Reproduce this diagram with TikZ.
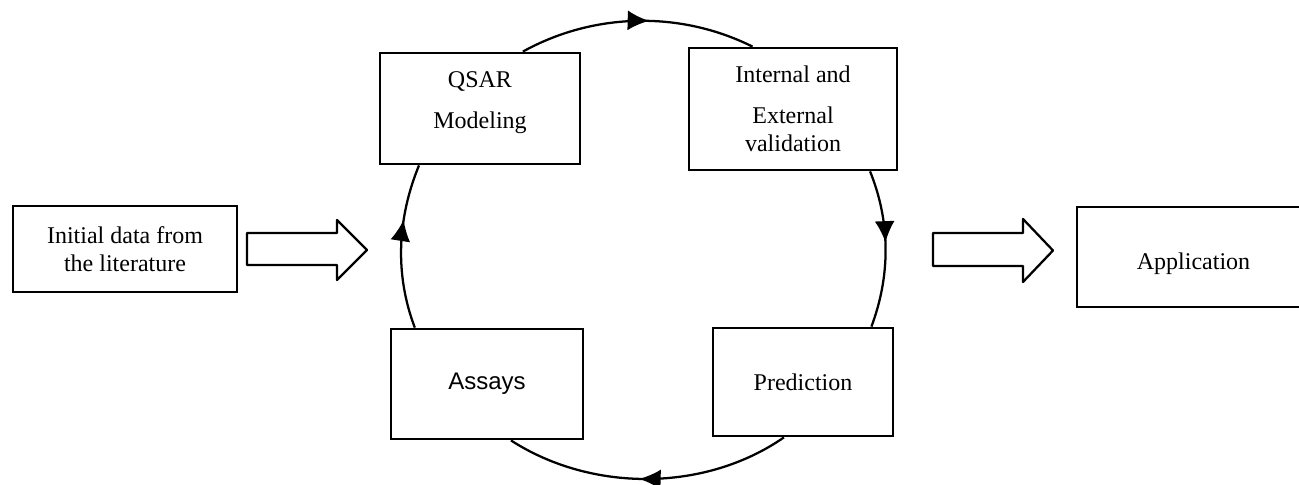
\documentclass[tikz,border=0pt]{standalone}
\usepackage{fontspec}
\setmainfont{Liberation Serif}
\newfontfamily\arialfont{Liberation Sans}
\usetikzlibrary{arrows.meta,decorations.markings}

\tikzset{
	box/.style={draw, line width=2.1pt, fill=white, inner sep=0pt, align=center, font=\fontsize{18}{21}\selectfont},
	cycarc/.style={line width=1.7pt, looseness=0.9, postaction={decorate},
		decoration={markings, mark=at position #1 with {\arrow{Latex[length=16pt,width=15pt]}}}},
	hollow/.style={line width=1.7pt, line join=round},
}

\begin{document}
\begin{tikzpicture}[x=0.75pt,y=0.75pt,yscale=-1,xscale=1]
	\useasboundingbox (0,0) rectangle (1299,485);
	\node[box, minimum width=168pt, minimum height=64.5pt] (init) at (125,249) {Initial data from\\the literature};
	\node[box, minimum width=150pt, minimum height=83.25pt, text depth=13pt] (qsar) at (480,108.5) {QSAR\\[10pt]Modeling};
	\node[box, minimum width=156pt, minimum height=91.5pt] (valid) at (793,109) {Internal and\\[10pt]External\\validation};
	\node[box, minimum width=135pt, minimum height=81pt] (pred) at (803,382) {Prediction};
	\node[box, minimum width=144pt, minimum height=82.5pt] (assays) at (487,384) {\arialfont Assays};
	\node[box, minimum width=174.75pt, minimum height=75pt, text height=22pt] (app) at (1193.5,257) {Application};
	\draw[cycarc=0.55] (qsar.53) to[out=-29, in=206.5] (valid.123);
	\draw[cycarc=0.46] (valid.-39) to[out=68, in=-69.5] (pred.39);
	\draw[cycarc=0.53] (pred.251) to[out=145.3, in=32.8] (assays.-67);
	\draw[cycarc=0.66] (assays.142) to[out=-110.8, in=112.3] (qsar.223);
	\draw[hollow] (247,233) -- (337,233) -- (337,220) -- (367,250) -- (337,280) -- (337,265) -- (247,265) -- cycle ;
	\draw[hollow] (933,233) -- (1023,233) -- (1023,219) -- (1053,250.5) -- (1023,282) -- (1023,266) -- (933,266) -- cycle ;
\end{tikzpicture}
\end{document}
